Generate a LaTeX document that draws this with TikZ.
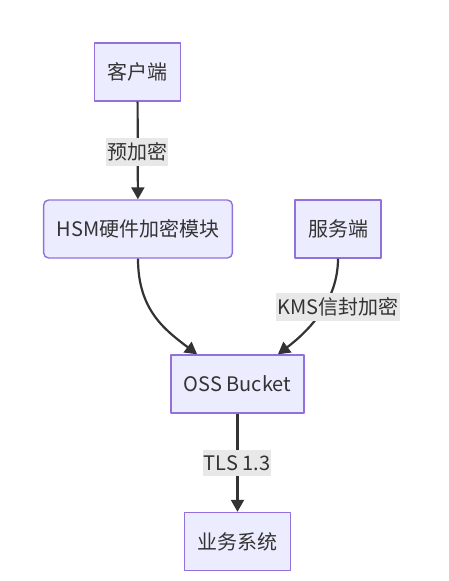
\documentclass[tikz,border=0pt]{standalone}
\usepackage{fontspec}
\setmainfont{Noto Sans CJK SC}
\usetikzlibrary{arrows.meta}
\definecolor{boxfill}{HTML}{ECECFF}
\definecolor{boxline}{HTML}{9370DB}
\definecolor{edgeline}{HTML}{333333}
\definecolor{lblfill}{HTML}{E8E8E8}
\tikzset{
  box/.style={draw=boxline, fill=boxfill, line width=1.4pt, text=edgeline,
    minimum height=58pt, inner xsep=13pt, font=\fontsize{20}{23}\selectfont},
  flow/.style={draw=edgeline, line width=2.2pt,
    -{Triangle[length=12pt,width=13pt]}},
  lbl/.style={fill=lblfill, text=edgeline, inner xsep=1pt, inner ysep=5pt,
    font=\fontsize{20}{23}\selectfont}
}
\begin{document}
\begin{tikzpicture}[x=1pt, y=-1pt, line join=round]
  \useasboundingbox (0,0) rectangle (449,581);
  % nodes
  \node[box] (client) at (137.5,72) {客户端};
  \node[box, rounded corners=5pt] (hsm) at (138,229) {HSM硬件加密模块};
  \node[box] (server) at (338,229) {服务端};
  \node[box] (oss) at (237.5,384) {OSS Bucket};
  \node[box] (biz) at (237.5,541.5) {业务系统};
  % edges
  \draw[flow] (client) -- (hsm);
  \draw[flow] (hsm.south) .. controls (138,310) and (165,330)
    .. ([xshift=27pt]oss.north west);
  \draw[flow] (server.south) .. controls (338,300) and (310,330)
    .. ([xshift=-27pt]oss.north east);
  \draw[flow] (oss) -- (biz);
  % labels
  \node[lbl] (pre) at (137,152) {预加密};
  \node[lbl] (kms) at (338,307) {KMS信封加密};
  \node[lbl] (tls) at (237,463) {TLS 1.3};
\end{tikzpicture}
\end{document}
